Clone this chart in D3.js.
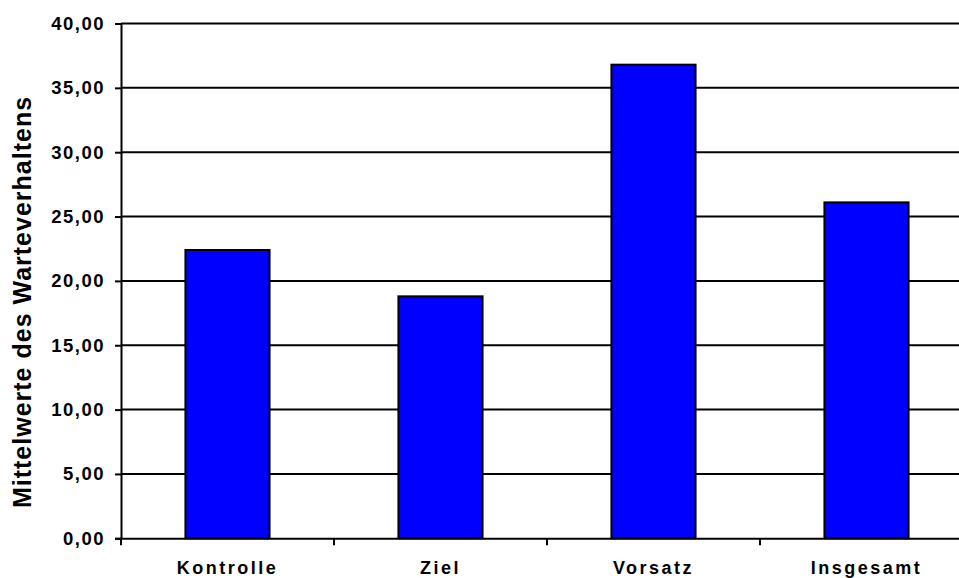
<!DOCTYPE html>
<html>
<head>
<meta charset="utf-8">
<script src="https://cdn.jsdelivr.net/npm/d3@7"></script>
<style>
  body { margin: 0; background: #fff; overflow: hidden; }
  text { font-family: "Liberation Sans", Arial, sans-serif; font-weight: bold; fill: #000; }
</style>
</head>
<body>
<div id="chart"></div>
<script>
// Kategorien und Mittelwerte
const categories = ["Kontrolle", "Ziel", "Vorsatz", "Insgesamt"];
const values = [22.4, 18.8, 36.8, 26.1];
const yTicks = [0, 5, 10, 15, 20, 25, 30, 35, 40];

const W = 959, H = 578;
const plotLeft = 121, plotRight = 973, plotTop = 23.5, plotBottom = 538.3;

const svg = d3.select("#chart")
    .append("svg")
    .attr("width", W)
    .attr("height", H);

const x = d3.scaleBand()
    .domain(categories)
    .range([plotLeft, plotRight])
    .padding(0);

const y = d3.scaleLinear()
    .domain([0, 40])
    .range([plotBottom, plotTop]);

const fmt = v => d3.format(".2f")(v).replace(".", ",");

// gridlines
svg.append("g")
    .selectAll("line")
    .data(yTicks.slice(1))
    .enter()
    .append("line")
    .attr("x1", plotLeft)
    .attr("x2", plotRight)
    .attr("y1", d => y(d))
    .attr("y2", d => y(d))
    .attr("stroke", "#000")
    .attr("stroke-width", 2);

// bars
const barW = x.bandwidth() * 0.395;
svg.selectAll(".bar")
    .data(values)
    .enter()
    .append("rect")
    .attr("class", "bar")
    .attr("x", (d, i) => x(categories[i]) + (x.bandwidth() - barW) / 2)
    .attr("y", d => y(d))
    .attr("width", barW)
    .attr("height", d => y(0) - y(d))
    .attr("fill", "#0000ff")
    .attr("stroke", "#000")
    .attr("stroke-width", 2);

// Y axis
const yAxis = svg.append("g")
    .attr("transform", "translate(" + plotLeft + ",0)")
    .call(d3.axisLeft(y).tickValues(yTicks).tickFormat(fmt).tickSize(6).tickPadding(10));
yAxis.select(".domain").attr("stroke-width", 2);
yAxis.selectAll(".tick line").attr("stroke-width", 2);
yAxis.selectAll("text")
    .attr("font-size", 18.5)
    .attr("letter-spacing", "1.5px")
    .attr("font-family", "Liberation Sans, Arial, sans-serif")
    .attr("font-weight", "bold");

// X axis
const xAxis = svg.append("g")
    .attr("transform", "translate(0," + plotBottom + ")")
    .call(d3.axisBottom(x).tickSize(0).tickPadding(23));
xAxis.select(".domain").attr("stroke-width", 2);
xAxis.selectAll("text")
    .attr("font-size", 18)
    .attr("letter-spacing", "2.5px")
    .attr("font-family", "Liberation Sans, Arial, sans-serif")
    .attr("font-weight", "bold");

// category separators
svg.append("g")
    .selectAll("line")
    .data(categories)
    .enter()
    .append("line")
    .attr("x1", d => x(d))
    .attr("x2", d => x(d))
    .attr("y1", plotBottom)
    .attr("y2", plotBottom + 7)
    .attr("stroke", "#000")
    .attr("stroke-width", 2);

// Y title
svg.append("text")
    .attr("transform", "translate(31," + 302 + ") rotate(-90)")
    .attr("text-anchor", "middle")
    .attr("font-size", 25)
    .attr("letter-spacing", "1px")
    .text("Mittelwerte des Warteverhaltens");
</script>
</body>
</html>
